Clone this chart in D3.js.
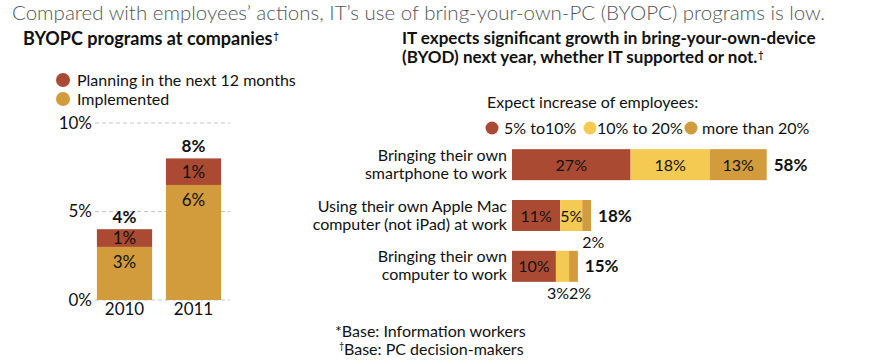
<!DOCTYPE html>
<html><head><meta charset="utf-8">
<script src="https://cdn.jsdelivr.net/npm/d3@7"></script>
<style>body{margin:0;background:#fff}svg{display:block;font-family:Lato,"Noto Sans",sans-serif}</style>
</head><body><svg id="c" width="892" height="362"></svg>
<script>
// ---- data ----
const years = ["2010", "2011"];
const implemented = [3, 6.5];
const planning = [1, 1.5];
const implementedLabels = ["3%", "6%"];
const planningLabels = ["1%", "1%"];
const totalLabels = ["4%", "8%"];
const leftTicks = [0, 5, 10];

const devices = [["Bringing their own", "smartphone to work"], ["Using their own Apple Mac", "computer (not iPad) at work"], ["Bringing their own", "computer to work"]];
const seriesNames = ["5% to10%", "10% to 20%", "more than 20%"];
const low = [27, 11, 10];
const mid = [18, 5, 3];
const high = [13, 2, 2];
const totals = [58, 18, 15];

const RED = "#AB4A33", GOLD = "#D29B3B", YEL = "#F4CA52";
const svg = d3.select("#c");

// title
svg.append("text").attr("x", 12).attr("y", 20).attr("font-size", 20.5).attr("font-weight", 300).attr("fill", "#555")
  .text("Compared with employees\u2019 actions, IT\u2019s use of bring-your-own-PC (BYOPC) programs is low.");

// ---- left chart ----
const lh = svg.append("text").attr("x", 23).attr("y", 45).attr("font-size", 18).attr("font-weight", 700).attr("fill", "#111").text("BYOPC programs at companies");
svg.append("text").attr("x", 23 + lh.node().getComputedTextLength() + 1).attr("y", 39).attr("font-size", 9).attr("font-weight", 700).attr("fill", "#111").text("\u2020");

[["Planning in the next 12 months", RED, 80], ["Implemented", GOLD, 99]].forEach(([t, c, y]) => {
  svg.append("circle").attr("cx", 63).attr("cy", y).attr("r", 7).attr("fill", c);
  svg.append("text").attr("x", 77).attr("y", y + 6).attr("font-size", 16).attr("fill", "#111").text(t);
});

const yL = d3.scaleLinear().domain([0, 10]).range([300, 123]);
const xL = d3.scaleBand().domain(years).range([90, 228]).paddingInner(0.2).paddingOuter(0.1);

const gAxis = svg.append("g").attr("transform", "translate(95,0)")
  .call(d3.axisLeft(yL).tickValues(leftTicks).tickSize(0).tickPadding(3).tickFormat(d => d + "%"));
gAxis.select(".domain").remove();
gAxis.selectAll("text").attr("font-size", 17).attr("font-family", "Lato,'Noto Sans',sans-serif").attr("fill", "#111");
svg.append("g").selectAll("line").data(leftTicks).join("line")
  .attr("x1", 95).attr("x2", 230).attr("y1", d => yL(d)).attr("y2", d => yL(d))
  .attr("stroke", "#c8c8c8").attr("stroke-width", 1).attr("stroke-dasharray", "4,3");

years.forEach((yr, i) => {
  const x = xL(yr), w = xL.bandwidth(), cx = x + w / 2;
  svg.append("rect").attr("x", x).attr("width", w).attr("y", yL(implemented[i])).attr("height", yL(0) - yL(implemented[i])).attr("fill", GOLD);
  svg.append("rect").attr("x", x).attr("width", w).attr("y", yL(implemented[i] + planning[i])).attr("height", yL(implemented[i]) - yL(implemented[i] + planning[i])).attr("fill", RED);
  const ptop = yL(implemented[i] + planning[i]), pbot = yL(implemented[i]);
  svg.append("text").attr("x", cx).attr("y", (ptop + pbot) / 2 + 6).attr("text-anchor", "middle").attr("font-size", 17).attr("fill", "#111").text(planningLabels[i]);
  svg.append("text").attr("x", cx).attr("y", pbot + 21).attr("text-anchor", "middle").attr("font-size", 17).attr("fill", "#111").text(implementedLabels[i]);
  svg.append("text").attr("x", cx).attr("y", ptop - 6).attr("text-anchor", "middle").attr("font-size", 17).attr("font-weight", 700).attr("fill", "#111").text(totalLabels[i]);
  svg.append("text").attr("x", cx).attr("y", 315).attr("text-anchor", "middle").attr("font-size", 17).attr("fill", "#111").text(yr);
});

// ---- right chart ----
svg.append("text").attr("x", 402).attr("y", 44).attr("font-size", 17).attr("font-weight", 700).attr("fill", "#111").text("IT expects significant growth in bring-your-own-device");
const rt2 = svg.append("text").attr("x", 402).attr("y", 63).attr("font-size", 17).attr("font-weight", 700).attr("fill", "#111").text("(BYOD) next year, whether IT supported or not.");
const rtw = rt2.node().getComputedTextLength();
svg.append("text").attr("x", 402 + rtw + 1).attr("y", 58).attr("font-size", 9).attr("font-weight", 700).attr("fill", "#111").text("\u2020");

svg.append("text").attr("x", 487).attr("y", 108).attr("font-size", 16).attr("fill", "#111").text("Expect increase of employees:");
const legCols = [RED, YEL, GOLD];
const legX = [[492, 504], [590, 597], [691, 702]];
seriesNames.forEach((s, i) => {
  svg.append("circle").attr("cx", legX[i][0]).attr("cy", 128).attr("r", 6.5).attr("fill", legCols[i]);
  svg.append("text").attr("x", legX[i][1]).attr("y", 134).attr("font-size", 16).attr("fill", "#111").text(s);
});

const xR = d3.scaleLinear().domain([0, 58]).range([512, 766.7]);
const yR = d3.scaleBand().domain(d3.range(devices.length)).range([139, 292]).paddingInner(0.39).paddingOuter(0.2);
const stackData = devices.map((d, i) => ({ i, v: [low[i], mid[i], high[i]] }));

stackData.forEach(row => {
  const y = yR(row.i), h = yR.bandwidth(), cy = y + h / 2;
  let acc = 0;
  const segs = row.v.map((v, k) => { const s = { k, v, x0: acc, x1: acc + v }; acc += v; return s; });
  segs.forEach(s => {
    svg.append("rect").attr("x", xR(s.x0)).attr("width", xR(s.x1) - xR(s.x0)).attr("y", y).attr("height", h).attr("fill", legCols[s.k]);
  });
  const small = segs.filter(s => s.v < 4);
  segs.forEach(s => {
    if (s.v >= 4) {
      svg.append("text").attr("x", (xR(s.x0) + xR(s.x1)) / 2).attr("y", cy + 6).attr("text-anchor", "middle").attr("font-size", 16).attr("fill", "#111").text(s.v + "%");
    }
  });
  small.forEach((s, j) => {
    const last = j === small.length - 1;
    svg.append("text").attr("x", last ? xR(s.x0) : xR(s.x1)).attr("y", y + h + 17).attr("text-anchor", last ? "start" : "end")
      .attr("font-size", 16).attr("fill", "#111").text(s.v + "%");
  });
  svg.append("text").attr("x", xR(acc) + 7).attr("y", cy + 6).attr("font-size", 17).attr("font-weight", 700).attr("fill", "#111").text(totals[row.i] + "%");
  svg.append("text").attr("x", 507).attr("y", cy - 4).attr("text-anchor", "end").attr("font-size", 16).attr("fill", "#111").text(devices[row.i][0]);
  svg.append("text").attr("x", 507).attr("y", cy + 14).attr("text-anchor", "end").attr("font-size", 16).attr("fill", "#111").text(devices[row.i][1]);
});

// footnotes
svg.append("text").attr("x", 335).attr("y", 337).attr("font-size", 16).attr("fill", "#111").text("*Base: Information workers");
svg.append("text").attr("x", 339).attr("y", 349).attr("font-size", 9).attr("fill", "#111").text("\u2020");
svg.append("text").attr("x", 344).attr("y", 355).attr("font-size", 16).attr("fill", "#111").text("Base: PC decision-makers");
</script></body></html>
